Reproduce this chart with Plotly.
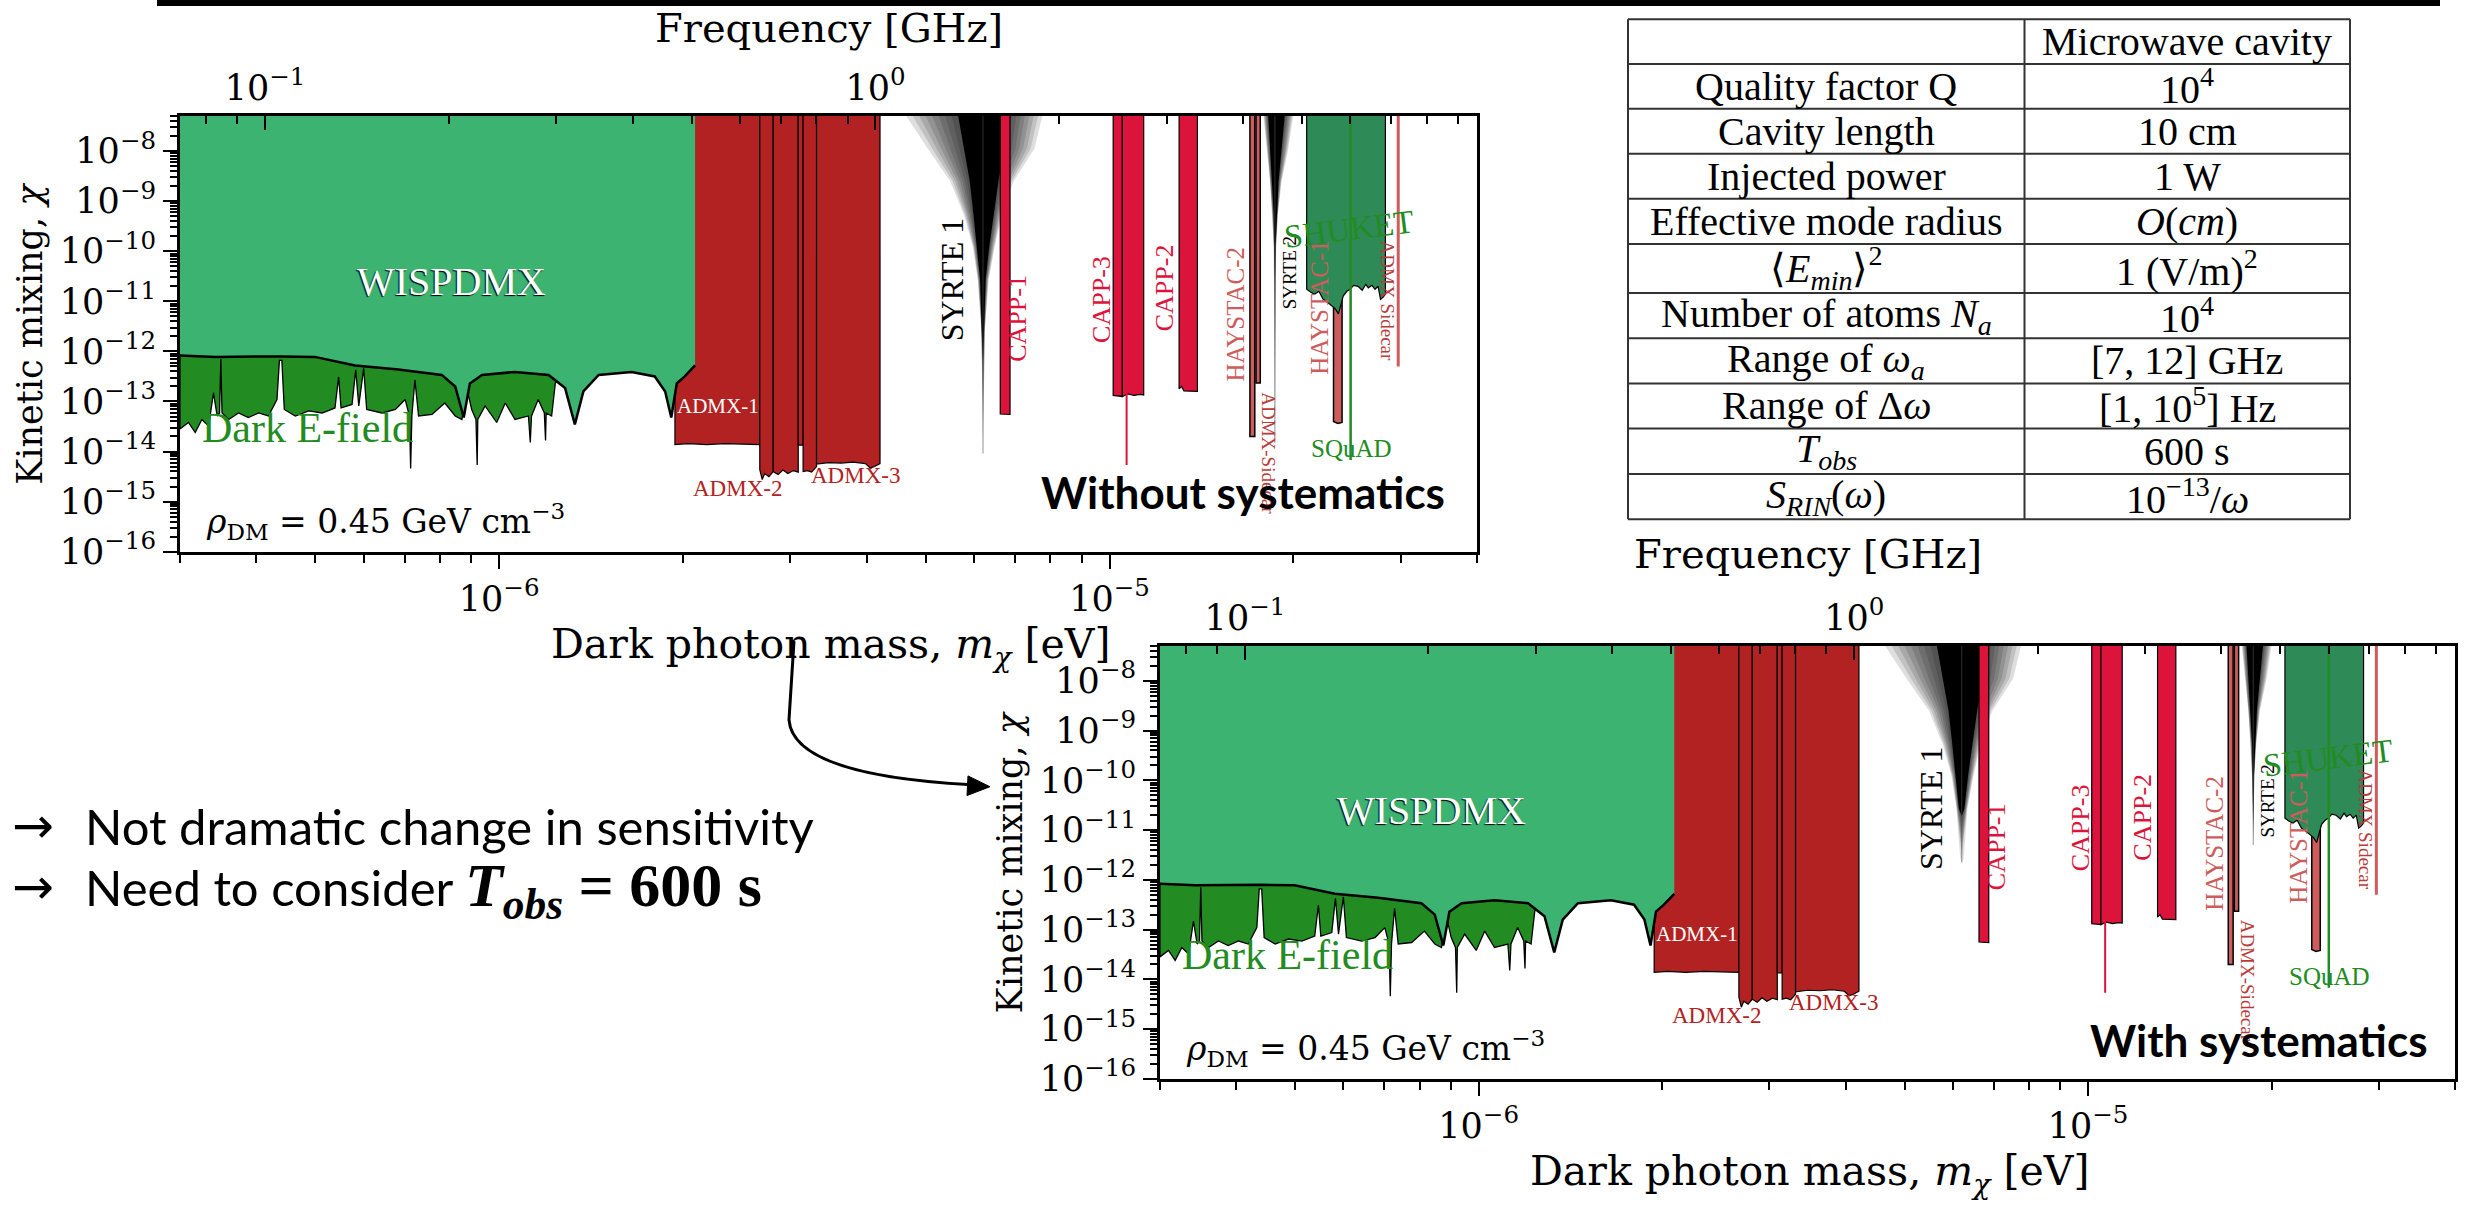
import numpy as np
import plotly.graph_objects as go

W, H = 2468, 1205

# ---------------- axes ----------------
MASS_RANGE_EV = [3e-7, 4e-5]
CHI_RANGE_EXP = [-16, -7.3]
LOG_GHZ_PER_EV = 5.3835  # log10 of (1 eV / h) expressed in GHz
TOP = -6.9               # fills are closed above the frame (clipped)

mass_major = [1e-6, 1e-5]
mass_major_text = ["10<sup>−6</sup>", "10<sup>−5</sup>"]
freq_major = [0.1, 1.0]
freq_major_text = ["10<sup>−1</sup>", "10<sup>0</sup>"]
chi_major_exp = [-16, -15, -14, -13, -12, -11, -10, -9, -8]

# ---------------- data: log10(mass/eV), log10(chi) ----------------
# WISPDMX lower boundary
wisp_logm = [-6.523, -6.465, -6.356, -6.302, -6.236, -6.165, -6.094, -6.072, -6.058, -6.048,
             -6.028, -5.974, -5.919, -5.892, -5.876, -5.862, -5.837, -5.783, -5.745, -5.728,
             -5.718, -5.709, -5.696, -5.679]
wisp_logchi = [-12.08, -12.11, -12.10, -12.11, -12.28, -12.36, -12.47, -12.70, -13.32, -12.64,
               -12.47, -12.41, -12.47, -12.73, -13.46, -12.80, -12.47, -12.41, -12.50, -12.80,
               -13.32, -12.64, -12.50, -12.28]

# Dark E-field lower boundary (spiky)
efield_logm = [-6.523, -6.509, -6.498, -6.487, -6.476, -6.468, -6.462, -6.458, -6.456, -6.454,
               -6.443, -6.427, -6.411, -6.394, -6.378, -6.364, -6.360, -6.356, -6.352, -6.334,
               -6.312, -6.290, -6.269, -6.263, -6.259, -6.241, -6.235, -6.230, -6.222, -6.217,
               -6.192, -6.170, -6.154, -6.147, -6.145, -6.143, -6.138, -6.132, -6.110, -6.089,
               -6.072, -6.061, -6.053, -6.045, -6.038, -6.036, -6.035, -6.023, -6.004, -5.990,
               -5.974, -5.952, -5.949, -5.947, -5.936, -5.926, -5.924, -5.923, -5.914, -5.908,
               -5.906]
efield_logchi = [-13.55, -13.42, -13.62, -13.36, -13.49, -12.83, -13.29, -13.23, -12.15, -13.23,
                 -13.36, -13.23, -13.32, -13.23, -13.29, -12.96, -12.18, -12.18, -13.16, -13.29,
                 -13.19, -13.23, -13.13, -12.51, -13.13, -13.06, -12.37, -13.09, -12.34, -13.16,
                 -13.23, -13.16, -12.96, -13.29, -14.34, -13.29, -12.57, -13.29, -13.26, -13.03,
                 -13.29, -13.36, -12.73, -13.16, -13.36, -14.27, -13.36, -13.09, -13.42, -13.03,
                 -13.36, -13.29, -13.82, -13.29, -12.96, -13.23, -13.78, -13.23, -13.29, -12.64,
                 -12.57]
efield_top = -11.9

# ADMX
admx1_logm = [-5.712, -5.690, -5.660, -5.630, -5.600, -5.573]
admx1_logchi = [-13.86, -13.84, -13.86, -13.84, -13.85, -13.86]
admx2a_logm = [-5.573, -5.569, -5.565, -5.558, -5.551]
admx2a_logchi = [-14.36, -14.56, -14.44, -14.50, -14.40]
admx2b_logm = [-5.551, -5.543, -5.535, -5.527, -5.518, -5.510]
admx2b_logchi = [-14.40, -14.46, -14.37, -14.44, -14.38, -14.41]
admxgap_logm = [-5.510, -5.502]
admxgap_logchi = [-13.87, -13.87]
admx3a_logm = [-5.502, -5.495, -5.488, -5.480]
admx3a_logchi = [-14.40, -14.38, -14.41, -14.30]
admx3b_logm = [-5.480, -5.460, -5.440, -5.420, -5.400, -5.392, -5.385, -5.376]
admx3b_logchi = [-14.25, -14.22, -14.23, -14.21, -14.24, -14.33, -14.30, -14.24]

# CAPP
capp1_logm = [-5.179, -5.163]
capp1_logchi = [-13.25, -13.26]
capp3a_logm = [-4.994, -4.979]
capp3a_logchi = [-12.88, -12.90]
capp3b_logm = [-4.979, -4.970, -4.960, -4.950, -4.944]
capp3b_logchi = [-12.90, -12.85, -12.88, -12.86, -12.87]
capp3_line_logm = -4.972
capp3_line_bottom = -14.27
capp2_logm = [-4.886, -4.882, -4.878, -4.856]
capp2_logchi = [-12.75, -12.70, -12.79, -12.80]

# HAYSTAC
haystac2_logm = [-4.770, -4.762]
haystac2_logchi = [-13.70, -13.70]
haystac2b_logm = [-4.760, -4.753]
haystac2b_logchi = [-12.63, -12.63]
haystac1_logm = [-4.633, -4.626, -4.619]
haystac1_logchi = [-13.40, -13.44, -13.42]

# SHUKET
shuket_logm = [-4.677, -4.670, -4.664, -4.657, -4.650, -4.643, -4.636, -4.630, -4.625, -4.621,
               -4.617, -4.611, -4.606, -4.600, -4.593, -4.586, -4.580, -4.576, -4.570, -4.565,
               -4.560, -4.556, -4.552, -4.548]
shuket_logchi = [-10.76, -10.82, -10.86, -10.80, -10.96, -11.02, -11.09, -11.15, -11.25, -11.05,
                 -10.89, -10.80, -10.76, -10.68, -10.70, -10.78, -10.66, -10.73, -10.68, -10.76,
                 -10.70, -10.96, -10.92, -10.86]

# SQuAD and ADMX Sidecar thin lines
squad_logm, squad_bottom = -4.605, -14.17
sidecar_logm, sidecar_bottom = -4.527, -12.30

# SYRTE funnels
syrte1_levels = [-7.3, -7.95, -8.60, -9.26, -9.91, -10.57, -11.55]
syrte1_outer_l = [-5.333, -5.298, -5.261, -5.239, -5.224, -5.216, -5.210]
syrte1_core_l = [-5.248, -5.239, -5.229, -5.223, -5.217, -5.212, -5.2095]
syrte1_core_r = [-5.167, -5.173, -5.182, -5.190, -5.197, -5.203, -5.2055]
syrte1_outer_r = [-5.110, -5.123, -5.157, -5.176, -5.188, -5.198, -5.204]
syrte1_center = -5.2073
syrte1_tips = {False: (-14.04, -12.2), True: (-11.65, -10.72)}

syrte2_levels = [-7.3, -7.95, -8.60, -9.26, -9.91]
syrte2_outer_l = [-4.748, -4.743, -4.737, -4.734, -4.731]
syrte2_core_l = [-4.740, -4.737, -4.735, -4.731, -4.730]
syrte2_core_r = [-4.713, -4.718, -4.723, -4.726, -4.728]
syrte2_outer_r = [-4.699, -4.707, -4.718, -4.724, -4.727]
syrte2_center = -4.729
syrte2_tips = {False: (-13.8, -10.6), True: (-11.3, -10.86)}

# ---------------- colours ----------------
C_WISP = "rgb(60,179,113)"
C_EFIELD = "rgb(34,139,34)"
C_ADMX = "rgb(178,34,34)"
C_CAPP = "rgb(220,20,60)"
C_HAY = "rgb(205,92,92)"
C_SHUKET = "rgb(46,139,87)"
C_GREEN_TXT = "rgb(34,139,34)"
C_SIDECAR_TXT = "rgb(185,60,60)"

SERIF = "DejaVu Serif"
TSERIF = "Liberation Serif"


def px(x):
    return x / W


def py(y):
    return 1 - y / H


fig = go.Figure()


def add_fill(xs, ys, fill, lc, lw, xa, ya):
    fig.add_trace(go.Scatter(x=10 ** np.array(xs, float), y=10 ** np.array(ys, float),
                             mode="lines", fill="toself", fillcolor=fill,
                             line=dict(color=lc, width=lw), hoverinfo="skip",
                             showlegend=False, xaxis=xa, yaxis=ya))


def add_line(xs, ys, color, lw, xa, ya):
    fig.add_trace(go.Scatter(x=10 ** np.array(xs, float), y=10 ** np.array(ys, float),
                             mode="lines", line=dict(color=color, width=lw),
                             hoverinfo="skip", showlegend=False, xaxis=xa, yaxis=ya))


def region(logm, logchi):
    return [logm[0]] + list(logm) + [logm[-1]], [TOP] + list(logchi) + [TOP]


def funnel(levels, left, right, center, tip):
    keep = [i for i, v in enumerate(levels) if v > tip]
    xs = [left[i] for i in keep] + [center] + [right[i] for i in reversed(keep)]
    ys = [levels[i] for i in keep] + [tip] + [levels[i] for i in reversed(keep)]
    return xs, ys


panels = [
    dict(xa="x", ya="y", fa="x3", sys=False, box=(180, 118, 1477, 561)),
    dict(xa="x2", ya="y2", fa="x4", sys=True, box=(1160, 657, 2455, 1097)),
]

annotations = []
shapes = []


def note(text, x, y, size, family, color="black", angle=0, xanchor="center", **kw):
    d = dict(text=text, x=x, y=y, xref=kw.pop("xref", "paper"), yref=kw.pop("yref", "paper"),
             showarrow=False, textangle=angle, xanchor=xanchor, yanchor="middle",
             font=dict(family=family, size=size, color=color, **kw.pop("font_extra", {})))
    d.update(kw)
    annotations.append(d)


labels = [
    ("WISPDMX", -6.078, -10.60, "white", 40, 0),
    ("Dark E-field", -6.314, -13.52, C_GREEN_TXT, 42, 0),
    ("ADMX-1", -5.641, -13.09, "white", 21, 0),
    ("ADMX-2", -5.610, -14.73, C_ADMX, 23, 0),
    ("ADMX-3", -5.417, -14.47, C_ADMX, 23, 0),
    ("SYRTE 1", -5.259, -10.57, "black", 32, -90),
    ("CAPP-1", -5.150, -11.33, C_CAPP, 26, -90),
    ("CAPP-3", -5.013, -10.96, C_CAPP, 26, -90),
    ("CAPP-2", -4.910, -10.73, C_CAPP, 26, -90),
    ("HAYSTAC-2", -4.794, -11.26, C_HAY, 25, -90),
    ("ADMX-Sidecar", -4.739, -14.03, C_SIDECAR_TXT, 19, 90),
    ("SYRTE 2", -4.706, -10.42, "black", 19, -90),
    ("HAYSTAC-1", -4.656, -11.12, C_HAY, 25, -90),
    ("SHUKET", -4.607, -9.55, C_GREEN_TXT, 33, -7),
    ("ADMX Sidecar", -4.545, -10.99, C_SIDECAR_TXT, 19, 90),
    ("SQuAD", -4.604, -13.94, C_GREEN_TXT, 25, 0),
]

mass_lo, mass_hi = MASS_RANGE_EV
freq_lo, freq_hi = mass_lo * 10 ** LOG_GHZ_PER_EV, mass_hi * 10 ** LOG_GHZ_PER_EV

for p in panels:
    xa, ya, sys = p["xa"], p["ya"], p["sys"]
    # invisible trace so that the frequency axis is drawn
    fig.add_trace(go.Scatter(x=[freq_lo, freq_hi], y=[1e-12, 1e-12], mode="markers",
                             marker=dict(opacity=0), hoverinfo="skip", showlegend=False,
                             xaxis=p["fa"], yaxis=ya))
    # ADMX
    for lm, lc in [(admx1_logm, admx1_logchi), (admx2a_logm, admx2a_logchi),
                   (admx2b_logm, admx2b_logchi), (admxgap_logm, admxgap_logchi),
                   (admx3a_logm, admx3a_logchi), (admx3b_logm, admx3b_logchi)]:
        xs, ys = region(lm, lc)
        add_fill(xs, ys, C_ADMX, "black", 1.2, xa, ya)
    # SYRTE funnels: translucent layers between the outer envelope and the black core
    for lev, ol, cl, cr, orr, cen, tips in [
        (syrte1_levels, syrte1_outer_l, syrte1_core_l, syrte1_core_r, syrte1_outer_r, syrte1_center, syrte1_tips[sys]),
        (syrte2_levels, syrte2_outer_l, syrte2_core_l, syrte2_core_r, syrte2_outer_r, syrte2_center, syrte2_tips[sys]),
    ]:
        t_out, t_core = tips
        for f in np.arange(0.0, 1.0, 0.125):
            L = [a + (b - a) * f for a, b in zip(ol, cl)]
            R = [a + (b - a) * f for a, b in zip(orr, cr)]
            tip = t_out + (t_core - t_out) * f
            xs, ys = funnel(lev, L, R, cen, tip)
            add_fill(xs, ys, "rgba(0,0,0,0.13)", "rgba(0,0,0,0)", 0, xa, ya)
        xs, ys = funnel(lev, cl, cr, cen, t_core)
        add_fill(xs, ys, "black", "rgba(0,0,0,0)", 0, xa, ya)
        add_line([cen, cen], [lev[0], t_out], "rgba(80,80,80,0.6)", 1, xa, ya)
    # CAPP
    for lm, lc in [(capp1_logm, capp1_logchi), (capp3a_logm, capp3a_logchi),
                   (capp3b_logm, capp3b_logchi), (capp2_logm, capp2_logchi)]:
        xs, ys = region(lm, lc)
        add_fill(xs, ys, C_CAPP, "black", 1.2, xa, ya)
    add_line([capp3_line_logm, capp3_line_logm], [TOP, capp3_line_bottom], C_CAPP, 2, xa, ya)
    # HAYSTAC
    for lm, lc in [(haystac2_logm, haystac2_logchi), (haystac2b_logm, haystac2b_logchi),
                   (haystac1_logm, haystac1_logchi)]:
        xs, ys = region(lm, lc)
        add_fill(xs, ys, C_HAY, "black", 1.5, xa, ya)
    # SHUKET
    xs, ys = region(shuket_logm, shuket_logchi)
    add_fill(xs, ys, C_SHUKET, "black", 1.2, xa, ya)
    # SQuAD and Sidecar lines
    add_line([squad_logm, squad_logm], [TOP, squad_bottom], C_EFIELD, 2.5, xa, ya)
    add_line([sidecar_logm, sidecar_logm], [TOP, sidecar_bottom], C_HAY, 3, xa, ya)
    # Dark E-field
    xs = [efield_logm[0]] + efield_logm + [efield_logm[-1]]
    ys = [efield_top] + efield_logchi + [efield_top]
    add_fill(xs, ys, C_EFIELD, "black", 1.3, xa, ya)
    # WISPDMX
    xs = [wisp_logm[0]] + wisp_logm + [wisp_logm[-1]]
    ys = [TOP] + wisp_logchi + [TOP]
    add_fill(xs, ys, C_WISP, "rgba(0,0,0,0)", 0, xa, ya)
    add_line(wisp_logm, wisp_logchi, "black", 2.5, xa, ya)

    # labels in data coordinates
    for text, lx, ly, col, size, ang in labels:
        extra = {"shadow": "-1px 1px 1px black"} if text == "WISPDMX" else {}
        note(text, lx, ly, size, TSERIF, col, ang, xref=xa, yref=ya, font_extra=extra)

    x0, y0, x1, y1 = p["box"]
    cx, cy = (x0 + x1) / 2, (y0 + y1) / 2
    note("Frequency [GHz]", px(cx), py(y0 - (90 if not sys else 94)), 40, SERIF)
    note("Dark photon mass, <i>m</i><sub><i>χ</i></sub> [eV]", px(cx + 2), py(y1 + 97), 41, SERIF)
    note("Kinetic mixing, <i>χ</i>", px(x0 - 150), py(cy), 35, SERIF, angle=-90)
    note("<i>ρ</i><sub>DM</sub> = 0.45 GeV cm<sup>−3</sup>", px(x0 + 24), py(y1 - 31), 33, SERIF,
         xanchor="left")

# systematics captions
note("<b>Without systematics</b>", px(1243), py(500), 44, "Lato")
note("<b>With systematics</b>", px(2258), py(1058), 44, "Lato")

# bullet text
for yy in (840, 902):
    note("→", px(10), py(yy), 50, "DejaVu Sans", xanchor="left")
note("Not dramatic change in sensitivity", px(83), py(840), 49, "Lato", xanchor="left")
note("Need to consider <span style='font-family:Liberation Serif;font-size:62px'>"
     "<b><i>T</i></b><sub><b><i>obs</i></b></sub><b> = 600 s</b></span>",
     px(83), py(905), 49, "Lato", xanchor="left")

# ---------------- table ----------------
table_rows = [
    ("", "Microwave cavity"),
    ("Quality factor Q", "10<sup>4</sup>"),
    ("Cavity length", "10 cm"),
    ("Injected power", "1 W"),
    ("Effective mode radius", "<i>O</i>(<i>cm</i>)"),
    ("⟨<i>E</i><sub><i>min</i></sub>⟩<sup>2</sup>", "1 (V/m)<sup>2</sup>"),
    ("Number of atoms <i>N</i><sub><i>a</i></sub>", "10<sup>4</sup>"),
    ("Range of <i>ω</i><sub><i>a</i></sub>", "[7, 12] GHz"),
    ("Range of Δ<i>ω</i>", "[1, 10<sup>5</sup>] Hz"),
    ("<i>T</i><sub><i>obs</i></sub>", "600 s"),
    ("<i>S</i><sub><i>RIN</i></sub>(<i>ω</i>)", "10<sup>−13</sup>/<i>ω</i>"),
]
row_edges = [19.6, 65, 110.7, 156.4, 202, 248, 298, 344, 390, 435.7, 482, 528]
col_edges = [1628, 2024.5, 2350]
for ye in row_edges:
    shapes.append(dict(type="line", xref="paper", yref="paper", x0=px(col_edges[0]), x1=px(col_edges[-1]),
                       y0=py(ye), y1=py(ye), line=dict(color="#333", width=2)))
for xe in col_edges:
    shapes.append(dict(type="line", xref="paper", yref="paper", x0=px(xe), x1=px(xe),
                       y0=py(row_edges[0]), y1=py(row_edges[-1]), line=dict(color="#333", width=2)))
for i, (a, b) in enumerate(table_rows):
    yc = (row_edges[i] + row_edges[i + 1]) / 2
    for j, t in enumerate((a, b)):
        if not t:
            continue
        xc = (col_edges[j] + col_edges[j + 1]) / 2
        note(t, px(xc), py(yc), 40, TSERIF)

# top black bar
shapes.append(dict(type="rect", xref="paper", yref="paper", x0=px(157), x1=px(2440), y0=py(6), y1=py(0),
                   fillcolor="black", line=dict(width=0)))


# curved arrow
def P(x, y):
    return f"{px(x):.5f},{py(y):.5f}"


shapes.append(dict(type="path", xref="paper", yref="paper",
                   path=f"M {P(794,652)} L {P(789,732)} C {P(792,772)} {P(860,792)} {P(972,798)}",
                   line=dict(color="black", width=3)))
shapes.append(dict(type="path", xref="paper", yref="paper",
                   path=f"M {P(990,800)} L {P(968,789)} L {P(967,809)} Z",
                   fillcolor="black", line=dict(color="black", width=1)))


# ---------------- axes layout ----------------
def minor_vals(lo, hi):
    vals = []
    for d in range(int(np.floor(np.log10(lo))) - 1, int(np.ceil(np.log10(hi))) + 1):
        for k in range(2, 10):
            v = k * 10.0 ** d
            if lo <= v <= hi:
                vals.append(v)
    return vals


tickfont = dict(family=SERIF, size=35, color="black")

layout = dict(width=W, height=H, margin=dict(l=0, r=0, t=0, b=0), paper_bgcolor="white",
              plot_bgcolor="white", showlegend=False, annotations=annotations, shapes=shapes)

for idx, p in enumerate(panels):
    x0, y0, x1, y1 = p["box"]
    xname = "xaxis" if idx == 0 else "xaxis2"
    yname = "yaxis" if idx == 0 else "yaxis2"
    fname = "xaxis3" if idx == 0 else "xaxis4"
    yref = "y" if idx == 0 else "y2"
    xref = "x" if idx == 0 else "x2"
    layout[xname] = dict(type="log", range=[np.log10(mass_lo), np.log10(mass_hi)],
                         domain=[px(x0), px(x1)], anchor=yref,
                         tickmode="array", tickvals=mass_major, ticktext=mass_major_text,
                         ticks="outside", ticklen=14, tickwidth=2, tickcolor="black",
                         minor=dict(tickmode="array", tickvals=minor_vals(mass_lo, mass_hi),
                                    ticks="outside", ticklen=8, tickwidth=1.5, tickcolor="black"),
                         showline=True, linewidth=3, linecolor="black", mirror=True,
                         showgrid=False, zeroline=False, tickfont=tickfont)
    layout[yname] = dict(type="log", range=CHI_RANGE_EXP, domain=[py(y1), py(y0)], anchor=xref,
                         tickmode="array", tickvals=[10.0 ** e for e in chi_major_exp],
                         ticktext=[f"10<sup>−{-e}</sup>" for e in chi_major_exp],
                         ticks="outside", ticklen=14, tickwidth=2, tickcolor="black",
                         minor=dict(tickmode="array",
                                    tickvals=minor_vals(10.0 ** CHI_RANGE_EXP[0], 10.0 ** CHI_RANGE_EXP[1]),
                                    ticks="outside", ticklen=7, tickwidth=1.5, tickcolor="black"),
                         showline=True, linewidth=3, linecolor="black", mirror=True,
                         showgrid=False, zeroline=False, tickfont=tickfont)
    layout[fname] = dict(type="log", range=[np.log10(freq_lo), np.log10(freq_hi)],
                         overlaying=xref, side="top", anchor=yref,
                         tickmode="array", tickvals=freq_major, ticktext=freq_major_text,
                         ticks="inside", ticklen=14, tickwidth=2, tickcolor="black",
                         ticklabelstandoff=8,
                         minor=dict(tickmode="array", tickvals=minor_vals(freq_lo, freq_hi),
                                    ticks="inside", ticklen=8, tickwidth=1.5, tickcolor="black"),
                         showline=False, showgrid=False, zeroline=False, tickfont=tickfont)

fig.update_layout(**layout)
fig.write_html("out.html", config={"displayModeBar": False},
               post_script="document.body.style.margin='0';document.body.style.overflow='hidden';")
